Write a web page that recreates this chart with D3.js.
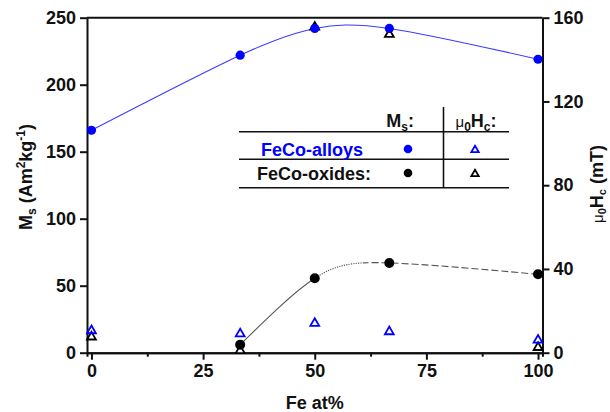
<!DOCTYPE html>
<html>
<head>
<meta charset="utf-8">
<script src="https://cdn.jsdelivr.net/npm/d3@7"></script>
<style>
  html, body { margin: 0; padding: 0; background: #fff; }
  svg { display: block; font-family: "Liberation Sans", Arial, sans-serif; }
  .tick text { font-weight: bold; }
</style>
</head>
<body>
<svg id="chart" width="610" height="412"></svg>
<script>
// ── Data ─────────────────────────────────────────────────────────────────────
const feAt      = [0, 33.3, 50, 66.7, 100];
const msAlloys  = [166, 222, 242, 242, 219];      // Am2/kg, blue circles
const feOxide   = [33.3, 50, 66.7, 100];
const msOxides  = [6, 55.5, 67, 58.5];            // Am2/kg, black circles
const hcAlloys  = [11, 9.5, 14.5, 10.5, 6.5];      // mT, blue triangles
const hcOxides  = [8, 1.5, 156, 152.5, 3];         // mT, black triangles
const xTicks    = [0, 25, 50, 75, 100];
const xMinor    = [12.5, 37.5, 62.5, 87.5];
const msTicks   = [0, 50, 100, 150, 200, 250];
const hcTicks   = [0, 40, 80, 120, 160];

const BLUE = '#0000ff';
const FS = 18;
const svg = d3.select('#chart');

const x  = d3.scaleLinear().domain([-1, 101]).range([87, 542.5]);
const yL = d3.scaleLinear().domain([0, 250]).range([352.7, 17.7]);
const yR = d3.scaleLinear().domain([0, 160]).range([352.7, 17.7]);

// ── Axes ─────────────────────────────────────────────────────────────────────
function styleAxis(g) {
  g.select('.domain').attr('stroke', '#111').attr('stroke-width', 2);
  g.selectAll('.tick line').attr('stroke', '#111').attr('stroke-width', 2);
  g.selectAll('.tick text').attr('fill', '#111').attr('font-size', FS);
}

// top frame line
svg.append('line')
  .attr('x1', x(-1)).attr('x2', x(101)).attr('y1', yL(250)).attr('y2', yL(250))
  .attr('stroke', '#111').attr('stroke-width', 2);

svg.append('g').attr('transform', `translate(0,${yL(0)})`)
  .call(d3.axisBottom(x).tickValues(xMinor).tickSize(4).tickFormat(''))
  .call(styleAxis);
svg.append('g').attr('transform', `translate(0,${yL(0)})`)
  .call(d3.axisBottom(x).tickValues(xTicks).tickSize(7).tickSizeOuter(0).tickPadding(5))
  .call(styleAxis);

svg.append('g').attr('transform', `translate(${x(-1)},0)`)
  .call(d3.axisLeft(yL).tickValues(msTicks).tickSize(7).tickSizeOuter(0).tickPadding(4))
  .call(styleAxis);

svg.append('g').attr('transform', `translate(${x(101)},0)`)
  .call(d3.axisRight(yR).tickValues(hcTicks).tickSize(7).tickSizeOuter(0).tickPadding(4))
  .call(styleAxis);

// ── Axis titles ──────────────────────────────────────────────────────────────
svg.append('text')
  .attr('x', x(50)).attr('y', 409)
  .attr('text-anchor', 'middle').attr('font-size', FS).attr('font-weight', 'bold')
  .attr('fill', '#111').text('Fe at%');

const yLab = svg.append('text')
  .attr('transform', 'translate(32,177) rotate(-90)')
  .attr('text-anchor', 'middle').attr('font-size', FS).attr('font-weight', 'bold')
  .attr('fill', '#111');
yLab.append('tspan').text('M');
yLab.append('tspan').attr('font-size', 12).attr('dy', 4).text('s');
yLab.append('tspan').attr('dy', -4).text(' (Am');
yLab.append('tspan').attr('font-size', 12).attr('dy', -7).text('2');
yLab.append('tspan').attr('dy', 7).text('kg');
yLab.append('tspan').attr('font-size', 12).attr('dy', -7).text('-1');
yLab.append('tspan').attr('dy', 7).text(')');

const rLab = svg.append('text')
  .attr('transform', 'translate(603,184) rotate(-90)')
  .attr('text-anchor', 'middle').attr('font-size', FS).attr('font-weight', 'bold')
  .attr('fill', '#111');
rLab.append('tspan').attr('font-weight', 'normal').attr('font-size', 15).text('\u03bc');
rLab.append('tspan').attr('font-size', 11).attr('dy', 3).text('0');
rLab.append('tspan').attr('dy', -3).text('H');
rLab.append('tspan').attr('font-size', 11).attr('dy', 3).text('c');
rLab.append('tspan').attr('dy', -3).text(' (mT)');

// ── Curves ───────────────────────────────────────────────────────────────────
const alloyLine = d3.line().x((d, i) => x(feAt[i])).y(d => yL(d)).curve(d3.curveNatural);
svg.append('path').datum(msAlloys)
  .attr('d', alloyLine).attr('fill', 'none')
  .attr('stroke', '#3a3aff').attr('stroke-width', 1.1);

// oxide curve: solid, then dotted, then dashed (clip by x range)
const oxideLine = d3.line().x((d, i) => x(feOxide[i])).y(d => yL(d)).curve(d3.curveNatural);
const defs = svg.append('defs');
const segs = [
  { id: 'seg1', from: 30, to: 50, dash: null },
  { id: 'seg2', from: 50, to: 61, dash: '1.2,1.2' },
  { id: 'seg3', from: 61, to: 101, dash: '7,3' },
];
segs.forEach(s => {
  defs.append('clipPath').attr('id', s.id).append('rect')
    .attr('x', x(s.from)).attr('y', 0)
    .attr('width', x(s.to) - x(s.from)).attr('height', 412);
  svg.append('path').datum(msOxides)
    .attr('d', oxideLine).attr('fill', 'none')
    .attr('stroke', '#555').attr('stroke-width', 1.1)
    .attr('stroke-dasharray', s.dash)
    .attr('clip-path', `url(#${s.id})`);
});

// ── Markers ──────────────────────────────────────────────────────────────────
const tri = d3.symbol().type(d3.symbolTriangle).size(34);

svg.append('g').selectAll('path').data(hcOxides).join('path')
  .attr('d', tri)
  .attr('transform', (d, i) => `translate(${x(feAt[i])},${yR(d) + 1})`)
  .attr('fill', '#fff').attr('stroke', '#000').attr('stroke-width', 1.8);

svg.append('g').selectAll('circle').data(msOxides).join('circle')
  .attr('cx', (d, i) => x(feOxide[i])).attr('cy', d => yL(d))
  .attr('r', 5).attr('fill', '#000');

svg.append('g').selectAll('path').data(hcAlloys).join('path')
  .attr('d', tri)
  .attr('transform', (d, i) => `translate(${x(feAt[i])},${yR(d) + 1})`)
  .attr('fill', 'none').attr('stroke', BLUE).attr('stroke-width', 1.8);

svg.append('g').selectAll('circle').data(msAlloys).join('circle')
  .attr('cx', (d, i) => x(feAt[i])).attr('cy', d => yL(d))
  .attr('r', 4.6).attr('fill', BLUE);

// ── Legend table ─────────────────────────────────────────────────────────────
const lg = svg.append('g');
[131.7, 159.3, 187.7].forEach(yy => {
  lg.append('line').attr('x1', 239).attr('x2', 509).attr('y1', yy).attr('y2', yy)
    .attr('stroke', '#111').attr('stroke-width', 1.6);
});
lg.append('line').attr('x1', 443.5).attr('x2', 443.5).attr('y1', 107).attr('y2', 188)
  .attr('stroke', '#111').attr('stroke-width', 1.6);

const hMs = lg.append('text').attr('x', 414).attr('y', 127)
  .attr('text-anchor', 'end').attr('font-size', FS).attr('font-weight', 'bold').attr('fill', '#111');
hMs.append('tspan').text('M');
hMs.append('tspan').attr('font-size', 12).attr('dy', 4).text('s');
hMs.append('tspan').attr('dy', -4).text(':');

const hHc = lg.append('text').attr('x', 476).attr('y', 127)
  .attr('text-anchor', 'middle').attr('font-size', FS).attr('font-weight', 'bold').attr('fill', '#111');
hHc.append('tspan').attr('font-weight', 'normal').attr('font-size', 15).text('\u03bc');
hHc.append('tspan').attr('font-size', 12).attr('dy', 4).text('0');
hHc.append('tspan').attr('dy', -4).text('H');
hHc.append('tspan').attr('font-size', 12).attr('dy', 4).text('c');
hHc.append('tspan').attr('dy', -4).text(':');

lg.append('text').attr('x', 312).attr('y', 155.5).attr('text-anchor', 'middle')
  .attr('font-size', FS).attr('font-weight', 'bold').attr('fill', BLUE).text('FeCo-alloys');
lg.append('text').attr('x', 314).attr('y', 179.5).attr('text-anchor', 'middle')
  .attr('font-size', FS).attr('font-weight', 'bold').attr('fill', '#111').text('FeCo-oxides:');

lg.append('circle').attr('cx', 408).attr('cy', 149).attr('r', 4.3).attr('fill', BLUE);
lg.append('circle').attr('cx', 408).attr('cy', 173).attr('r', 4.3).attr('fill', '#000');
lg.append('path').attr('d', d3.symbol().type(d3.symbolTriangle).size(24))
  .attr('transform', 'translate(475,150)').attr('fill', 'none').attr('stroke', BLUE).attr('stroke-width', 1.8);
lg.append('path').attr('d', d3.symbol().type(d3.symbolTriangle).size(24))
  .attr('transform', 'translate(475,174)').attr('fill', 'none').attr('stroke', '#000').attr('stroke-width', 1.8);
</script>
</body>
</html>
